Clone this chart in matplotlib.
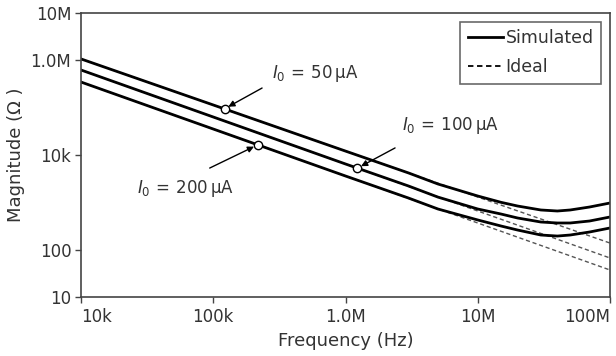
import numpy as np
import matplotlib
matplotlib.use('Agg')
import matplotlib.pyplot as plt
from matplotlib.ticker import FixedLocator, FixedFormatter, NullLocator

plt.rcParams['font.family'] = ['DejaVu Sans']
plt.rcParams['mathtext.fontset'] = 'dejavusans'

# simulated impedance magnitude (ohm) vs frequency (Hz)
freq_sim = [1e4, 1e5, 1e6, 3e6, 5e6, 1e7, 1.5e7, 2e7, 3e7, 4e7, 5e7, 7e7, 1e8]
sim_50 = [1.07e6, 114e3, 12.1e3, 4.17e3, 2.44e3, 1.36e3, 1.0e3, 836, 689, 656, 689, 796, 968]
sim_100 = [625e3, 63.5e3, 6.46e3, 2.21e3, 1.29e3, 723, 566, 467, 384, 366, 366, 403, 490]
sim_200 = [348e3, 35.4e3, 3.6e3, 1.23e3, 723, 424, 316, 260, 204, 194, 204, 236, 287]

# ideal lines (straight on log-log)
freq_ideal = [1e4, 1e8]
ideal_50 = [1.07e6, 138]
ideal_100 = [625e3, 66.7]
ideal_200 = [348e3, 37.2]

# annotated points
mark_f = [122e3, 1.23e6, 217e3]
mark_v = [95e3, 5.27e3, 16.4e3]
mark_text = [r'$I_0\, =\, 50\,$μA', r'$I_0\, =\, 100\,$μA', r'$I_0\, =\, 200\,$μA']
text_pos = [(278e3, 540e3), (2.67e6, 43e3), (26.5e3, 2.0e3)]
tail_pos = [(234e3, 260e3), (2.37e6, 14.1e3), (94e3, 5.3e3)]

xticks = [1e4, 1e5, 1e6, 1e7, 1e8]
xticklabels = ['10k', '100k', '1.0M', '10M', '100M']
yticks = [10, 100, 1e4, 1e6, 1e7]
yticklabels = ['10', '100', '10k', '1.0M', '10M']

txt = '#333333'
fig = plt.figure(figsize=(6.16, 3.56), dpi=100)
ax = fig.add_axes([81/616, 1-297/356, (610-81)/616, (297-13)/356])

for v in (ideal_50, ideal_100, ideal_200):
    ax.plot(freq_ideal, v, '--', color='#555555', lw=1.0, dashes=(3, 2))
for v in (sim_50, sim_100, sim_200):
    ax.plot(freq_sim, v, '-', color='black', lw=2.0, solid_joinstyle='round')

ax.plot(mark_f, mark_v, 'o', ms=6, mfc='white', mec='black', mew=1.0, zorder=5)

for (f, v), s, tp, tl in zip(zip(mark_f, mark_v), mark_text, text_pos, tail_pos):
    ax.annotate('', xy=(f, v), xytext=tl,
                arrowprops=dict(arrowstyle='-|>', color='black', lw=1.0,
                                mutation_scale=9, shrinkA=0, shrinkB=3))
    ax.text(tp[0], tp[1], s, fontsize=12, color=txt, ha='left', va='center')

ax.set_xscale('log')
ax.set_yscale('log')
ax.set_xlim(1e4, 1e8)
ax.set_ylim(10, 1e7)

ax.xaxis.set_major_locator(FixedLocator(xticks))
ax.xaxis.set_major_formatter(FixedFormatter(xticklabels))
ax.yaxis.set_major_locator(FixedLocator(yticks))
ax.yaxis.set_major_formatter(FixedFormatter(yticklabels))
ax.xaxis.set_minor_locator(NullLocator())
ax.yaxis.set_minor_locator(NullLocator())
ax.tick_params(direction='out', length=4, width=1.0, colors='#444444',
               labelcolor=txt, labelsize=12, pad=3)
ax.tick_params(axis='x', pad=4)
xl = ax.get_xticklabels()
xl[0].set_ha('left')
xl[-1].set_ha('right')

for sp in ax.spines.values():
    sp.set_color('#444444')
    sp.set_linewidth(1.2)

ax.set_xlabel('Frequency (Hz)', fontsize=13, color=txt, labelpad=4)
ax.set_ylabel('Magnitude (Ω )', fontsize=13, color=txt, labelpad=4)

ax.plot([], [], '-', color='black', lw=2.0, label='Simulated')
ax.plot([], [], '--', color='black', lw=1.3, dashes=(3, 2), label='Ideal')
handles, labels = ax.get_legend_handles_labels()
leg = ax.legend(handles[-2:], labels[-2:], loc='upper right', fontsize=12.5,
                frameon=True, fancybox=False, handlelength=2.0,
                handletextpad=0.15, borderpad=0.45, labelspacing=0.6,
                borderaxespad=0.5)
leg.get_frame().set_edgecolor('#444444')
leg.get_frame().set_linewidth(1.2)
for t in leg.get_texts():
    t.set_color(txt)

fig.savefig('out.png', dpi=100)
